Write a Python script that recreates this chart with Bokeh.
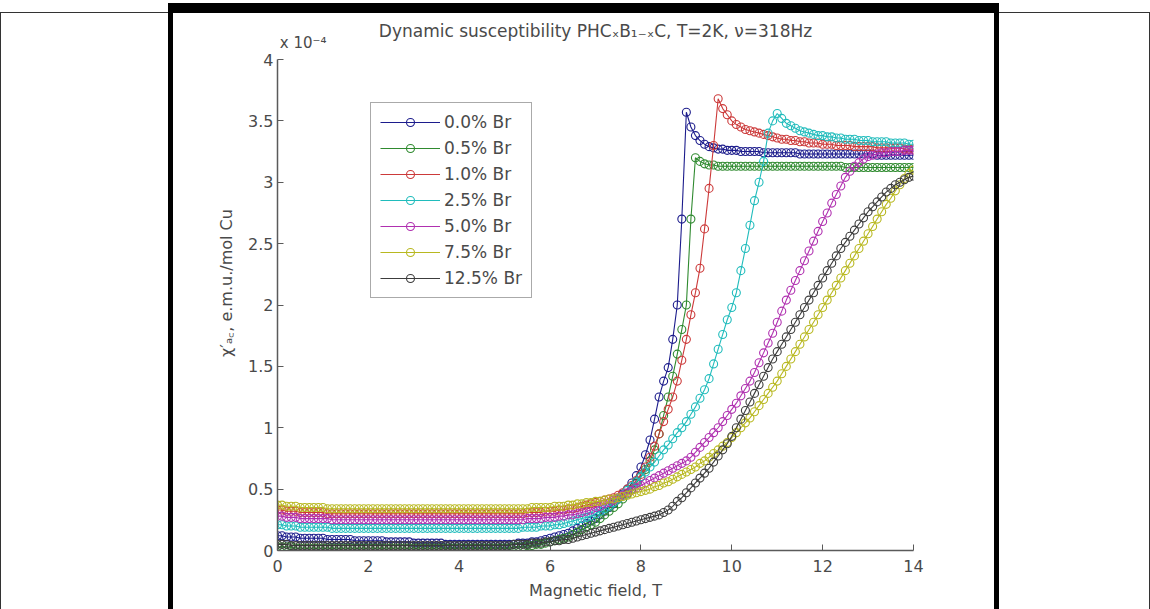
from bokeh.plotting import figure
from bokeh.models import Range1d, Legend, LegendItem, Label, FixedTicker, ColumnDataSource
from bokeh.embed import file_html
from bokeh.resources import INLINE

FIELD = [0.0, 0.1, 0.2, 0.3, 0.4, 0.5, 0.6, 0.7, 0.8, 0.9,
         1.0, 1.1, 1.2, 1.3, 1.4, 1.5, 1.6, 1.7, 1.8, 1.9,
         2.0, 2.1, 2.2, 2.3, 2.4, 2.5, 2.6, 2.7, 2.8, 2.9,
         3.0, 3.1, 3.2, 3.3, 3.4, 3.5, 3.6, 3.7, 3.8, 3.9,
         4.0, 4.1, 4.2, 4.3, 4.4, 4.5, 4.6, 4.7, 4.8, 4.9,
         5.0, 5.1, 5.2, 5.3, 5.4, 5.5, 5.6, 5.7, 5.8, 5.9,
         6.0, 6.1, 6.2, 6.3, 6.4, 6.5, 6.6, 6.7, 6.8, 6.9,
         7.0, 7.1, 7.2, 7.3, 7.4, 7.5, 7.6, 7.7, 7.8, 7.9,
         8.0, 8.1, 8.2, 8.3, 8.4, 8.5, 8.6, 8.7, 8.8, 8.9,
         9.0, 9.1, 9.2, 9.3, 9.4, 9.5, 9.6, 9.7, 9.8, 9.9,
         10.0, 10.1, 10.2, 10.3, 10.4, 10.5, 10.6, 10.7, 10.8, 10.9,
         11.0, 11.1, 11.2, 11.3, 11.4, 11.5, 11.6, 11.7, 11.8, 11.9,
         12.0, 12.1, 12.2, 12.3, 12.4, 12.5, 12.6, 12.7, 12.8, 12.9,
         13.0, 13.1, 13.2, 13.3, 13.4, 13.5, 13.6, 13.7, 13.8, 13.9,
         14.0]

LABELS = ["0.0% Br", "0.5% Br", "1.0% Br", "2.5% Br", "5.0% Br", "7.5% Br", "12.5% Br"]
COLORS = ["#1c1c8c", "#2f8a2f", "#cc3a3a", "#20bcbc", "#b030b0", "#b8b820", "#3c3c3c"]

CHI_00 = [0.12, 0.12, 0.11, 0.11, 0.11, 0.10, 0.10, 0.10, 0.10, 0.10,
          0.10, 0.09, 0.09, 0.09, 0.09, 0.09, 0.09, 0.08, 0.08, 0.08,
          0.08, 0.08, 0.08, 0.08, 0.07, 0.07, 0.07, 0.07, 0.07, 0.07,
          0.06, 0.06, 0.06, 0.06, 0.06, 0.06, 0.06, 0.05, 0.05, 0.05,
          0.05, 0.05, 0.05, 0.05, 0.05, 0.05, 0.05, 0.05, 0.05, 0.05,
          0.05, 0.05, 0.05, 0.06, 0.06, 0.06, 0.07, 0.07, 0.08, 0.09,
          0.10, 0.11, 0.12, 0.13, 0.14, 0.16, 0.18, 0.20, 0.22, 0.24,
          0.26, 0.29, 0.32, 0.35, 0.38, 0.42, 0.46, 0.50, 0.55, 0.61,
          0.68, 0.78, 0.90, 1.07, 1.25, 1.38, 1.49, 1.72, 2.00, 2.70,
          3.57, 3.45, 3.38, 3.34, 3.31, 3.29, 3.28, 3.27, 3.27, 3.26,
          3.26, 3.26, 3.25, 3.25, 3.25, 3.25, 3.25, 3.24, 3.24, 3.24,
          3.24, 3.24, 3.24, 3.24, 3.24, 3.23, 3.23, 3.23, 3.23, 3.23,
          3.23, 3.23, 3.23, 3.23, 3.23, 3.23, 3.23, 3.23, 3.23, 3.23,
          3.23, 3.23, 3.22, 3.22, 3.22, 3.22, 3.22, 3.22, 3.22, 3.22,
          3.22]

CHI_05 = [0.03, 0.03, 0.03, 0.03, 0.02, 0.02, 0.02, 0.02, 0.02, 0.02,
          0.02, 0.02, 0.02, 0.02, 0.02, 0.02, 0.02, 0.02, 0.02, 0.02,
          0.02, 0.02, 0.02, 0.02, 0.02, 0.02, 0.02, 0.02, 0.02, 0.02,
          0.02, 0.02, 0.02, 0.02, 0.02, 0.02, 0.02, 0.02, 0.02, 0.02,
          0.02, 0.02, 0.02, 0.02, 0.02, 0.02, 0.02, 0.02, 0.02, 0.02,
          0.02, 0.02, 0.03, 0.03, 0.03, 0.04, 0.04, 0.05, 0.05, 0.06,
          0.07, 0.08, 0.09, 0.10, 0.11, 0.13, 0.15, 0.17, 0.19, 0.21,
          0.23, 0.26, 0.29, 0.32, 0.35, 0.38, 0.42, 0.46, 0.50, 0.55,
          0.60, 0.66, 0.73, 0.82, 0.95, 1.10, 1.25, 1.42, 1.60, 1.80,
          2.00, 2.70, 3.20, 3.17, 3.15, 3.14, 3.14, 3.13, 3.13, 3.13,
          3.13, 3.13, 3.13, 3.13, 3.13, 3.13, 3.13, 3.13, 3.13, 3.13,
          3.13, 3.13, 3.13, 3.13, 3.13, 3.13, 3.13, 3.13, 3.13, 3.13,
          3.13, 3.13, 3.13, 3.13, 3.13, 3.12, 3.12, 3.12, 3.12, 3.12,
          3.12, 3.12, 3.12, 3.12, 3.12, 3.12, 3.12, 3.12, 3.12, 3.12,
          3.12]

CHI_10 = [0.33, 0.33, 0.32, 0.32, 0.32, 0.31, 0.31, 0.31, 0.31, 0.31,
          0.31, 0.30, 0.30, 0.30, 0.30, 0.30, 0.30, 0.30, 0.30, 0.30,
          0.30, 0.30, 0.30, 0.30, 0.30, 0.30, 0.30, 0.30, 0.30, 0.30,
          0.30, 0.30, 0.30, 0.30, 0.30, 0.30, 0.30, 0.30, 0.30, 0.30,
          0.30, 0.30, 0.30, 0.30, 0.30, 0.30, 0.30, 0.30, 0.30, 0.30,
          0.30, 0.30, 0.30, 0.30, 0.30, 0.31, 0.31, 0.31, 0.31, 0.32,
          0.32, 0.32, 0.33, 0.33, 0.34, 0.34, 0.35, 0.36, 0.37, 0.38,
          0.39, 0.40, 0.41, 0.42, 0.43, 0.45, 0.47, 0.50, 0.53, 0.57,
          0.62, 0.68, 0.76, 0.85, 0.95, 1.05, 1.15, 1.25, 1.38, 1.55,
          1.72, 1.92, 2.10, 2.30, 2.62, 2.95, 3.30, 3.68, 3.60, 3.55,
          3.50, 3.47, 3.45, 3.43, 3.42, 3.41, 3.40, 3.39, 3.38, 3.37,
          3.36, 3.35, 3.35, 3.34, 3.34, 3.33, 3.33, 3.32, 3.32, 3.32,
          3.31, 3.31, 3.31, 3.30, 3.30, 3.30, 3.30, 3.29, 3.29, 3.29,
          3.29, 3.29, 3.28, 3.28, 3.28, 3.28, 3.28, 3.28, 3.27, 3.27,
          3.27]

CHI_25 = [0.21, 0.21, 0.20, 0.20, 0.20, 0.19, 0.19, 0.19, 0.19, 0.19,
          0.19, 0.19, 0.18, 0.18, 0.18, 0.18, 0.18, 0.18, 0.18, 0.18,
          0.18, 0.18, 0.18, 0.18, 0.18, 0.18, 0.18, 0.18, 0.18, 0.18,
          0.18, 0.18, 0.18, 0.18, 0.18, 0.18, 0.18, 0.18, 0.18, 0.18,
          0.18, 0.18, 0.18, 0.18, 0.18, 0.18, 0.18, 0.18, 0.18, 0.18,
          0.18, 0.18, 0.18, 0.18, 0.19, 0.19, 0.19, 0.19, 0.20, 0.20,
          0.20, 0.21, 0.21, 0.22, 0.23, 0.24, 0.25, 0.26, 0.27, 0.28,
          0.30, 0.32, 0.34, 0.36, 0.39, 0.42, 0.45, 0.49, 0.52, 0.56,
          0.60, 0.64, 0.68, 0.72, 0.77, 0.82, 0.86, 0.91, 0.96, 1.00,
          1.05, 1.11, 1.17, 1.24, 1.31, 1.40, 1.52, 1.64, 1.76, 1.88,
          1.98, 2.10, 2.28, 2.46, 2.65, 2.85, 3.00, 3.17, 3.40, 3.50,
          3.56, 3.52, 3.48, 3.46, 3.44, 3.42, 3.41, 3.40, 3.39, 3.38,
          3.38, 3.37, 3.37, 3.36, 3.36, 3.35, 3.35, 3.35, 3.34, 3.34,
          3.34, 3.33, 3.33, 3.33, 3.33, 3.32, 3.32, 3.32, 3.32, 3.31,
          3.31]

CHI_50 = [0.28, 0.28, 0.27, 0.27, 0.27, 0.26, 0.26, 0.26, 0.26, 0.26,
          0.26, 0.26, 0.25, 0.25, 0.25, 0.25, 0.25, 0.25, 0.25, 0.25,
          0.25, 0.25, 0.25, 0.25, 0.25, 0.25, 0.25, 0.25, 0.25, 0.25,
          0.25, 0.25, 0.25, 0.25, 0.25, 0.25, 0.25, 0.25, 0.25, 0.25,
          0.25, 0.25, 0.25, 0.25, 0.25, 0.25, 0.25, 0.25, 0.25, 0.25,
          0.25, 0.25, 0.25, 0.25, 0.25, 0.26, 0.26, 0.26, 0.26, 0.27,
          0.27, 0.27, 0.28, 0.28, 0.29, 0.29, 0.30, 0.31, 0.32, 0.33,
          0.35, 0.36, 0.38, 0.39, 0.41, 0.43, 0.45, 0.47, 0.49, 0.51,
          0.53, 0.55, 0.57, 0.59, 0.61, 0.63, 0.65, 0.67, 0.69, 0.71,
          0.73, 0.76, 0.80, 0.84, 0.88, 0.92, 0.96, 1.00, 1.05, 1.10,
          1.15, 1.20, 1.26, 1.32, 1.38, 1.45, 1.53, 1.61, 1.69, 1.77,
          1.86, 1.95, 2.04, 2.12, 2.20, 2.28, 2.36, 2.44, 2.52, 2.60,
          2.68, 2.75, 2.83, 2.90, 2.97, 3.04, 3.09, 3.13, 3.16, 3.19,
          3.21, 3.22, 3.23, 3.24, 3.24, 3.25, 3.25, 3.25, 3.26, 3.26,
          3.26]

CHI_75 = [0.37, 0.37, 0.36, 0.36, 0.36, 0.35, 0.35, 0.35, 0.35, 0.35,
          0.35, 0.34, 0.34, 0.34, 0.34, 0.34, 0.34, 0.34, 0.34, 0.34,
          0.34, 0.34, 0.34, 0.34, 0.34, 0.34, 0.34, 0.34, 0.34, 0.34,
          0.34, 0.34, 0.34, 0.34, 0.34, 0.34, 0.34, 0.34, 0.34, 0.34,
          0.34, 0.34, 0.34, 0.34, 0.34, 0.34, 0.34, 0.34, 0.34, 0.34,
          0.34, 0.34, 0.34, 0.34, 0.34, 0.34, 0.35, 0.35, 0.35, 0.35,
          0.35, 0.36, 0.36, 0.36, 0.37, 0.37, 0.38, 0.38, 0.39, 0.39,
          0.40, 0.40, 0.41, 0.42, 0.42, 0.43, 0.44, 0.45, 0.46, 0.47,
          0.48, 0.49, 0.50, 0.52, 0.53, 0.55, 0.56, 0.58, 0.60, 0.62,
          0.64, 0.66, 0.68, 0.71, 0.73, 0.76, 0.79, 0.82, 0.85, 0.88,
          0.92, 0.96, 1.00, 1.04, 1.08, 1.13, 1.18, 1.23, 1.28, 1.33,
          1.38, 1.44, 1.50, 1.56, 1.62, 1.68, 1.74, 1.80, 1.86, 1.92,
          1.98, 2.04, 2.10, 2.16, 2.22, 2.28, 2.34, 2.40, 2.46, 2.52,
          2.58, 2.64, 2.70, 2.76, 2.82, 2.87, 2.93, 2.98, 3.03, 3.07,
          3.10]

CHI_125 = [0.05, 0.05, 0.05, 0.04, 0.04, 0.04, 0.04, 0.04, 0.04, 0.04,
           0.04, 0.04, 0.04, 0.04, 0.04, 0.04, 0.04, 0.04, 0.04, 0.04,
           0.04, 0.04, 0.04, 0.04, 0.04, 0.04, 0.04, 0.04, 0.04, 0.04,
           0.04, 0.04, 0.04, 0.04, 0.04, 0.04, 0.04, 0.04, 0.04, 0.04,
           0.04, 0.04, 0.04, 0.04, 0.04, 0.04, 0.04, 0.04, 0.04, 0.04,
           0.04, 0.04, 0.05, 0.05, 0.05, 0.05, 0.06, 0.06, 0.06, 0.07,
           0.07, 0.08, 0.08, 0.09, 0.09, 0.10, 0.11, 0.12, 0.13, 0.14,
           0.15, 0.16, 0.17, 0.18, 0.19, 0.20, 0.21, 0.22, 0.23, 0.24,
           0.25, 0.26, 0.27, 0.28, 0.29, 0.31, 0.33, 0.36, 0.40, 0.43,
           0.47, 0.51, 0.55, 0.59, 0.63, 0.67, 0.72, 0.77, 0.82, 0.87,
           0.93, 1.00, 1.07, 1.14, 1.21, 1.28, 1.35, 1.42, 1.49, 1.56,
           1.62, 1.68, 1.74, 1.80, 1.86, 1.92, 1.98, 2.04, 2.10, 2.16,
           2.22, 2.28, 2.34, 2.40, 2.46, 2.51, 2.56, 2.61, 2.66, 2.71,
           2.76, 2.80, 2.84, 2.88, 2.92, 2.95, 2.98, 3.00, 3.02, 3.04,
           3.05]

SERIES = [CHI_00, CHI_05, CHI_10, CHI_25, CHI_50, CHI_75, CHI_125]

X_TICKS = [0, 2, 4, 6, 8, 10, 12, 14]
Y_TICKS = [0, 0.5, 1, 1.5, 2, 2.5, 3, 3.5, 4]
Y_TICK_LABELS = ["0", "0.5", "1", "1.5", "2", "2.5", "3", "3.5", "4"]
TITLE = "Dynamic susceptibility PHC\u2093B\u2081\u208b\u2093C, T=2K, \u03bd=318Hz"
SCALE_NOTE = "x 10\u207b\u2074"

FONT = "DejaVu Sans"
TXT = "#4a4a4a"
AX = "#5a5a5a"

W, H = 1150, 609
FL, FR, FT, FB = 277, 913, 15, 550
PX_PER_UNIT = (FB - 59) / 4.0           # axis 0..4 spans pixel rows 550..59
Y_END = (FB - FT) / PX_PER_UNIT          # frame extends above the axis to hold the header texts

p = figure(width=W, height=H, output_backend="svg", toolbar_location=None,
           x_range=Range1d(0, 14), y_range=Range1d(0, Y_END),
           min_border_left=FL, min_border_right=W - FR,
           min_border_top=FT, min_border_bottom=H - FB,
           background_fill_color="white", border_fill_alpha=0.0)
p.outline_line_color = None
p.grid.visible = False
p.title.visible = False

# page frame (black border of the scanned figure box) drawn as CSS background
p.styles = {
    "background-color": "white",
    "background-image": ", ".join(["linear-gradient(#000000, #000000)"] * 3
                                  + ["linear-gradient(#333333, #333333)"] * 4),
    "background-size": "5px 606px, 5px 606px, 831px 10px, 168px 1px, 151px 1px, 1px 597px, 1px 597px",
    "background-position": "168px 3px, 994px 3px, 168px 3px, 0px 12px, 999px 12px, 0px 12px, 1149px 12px",
    "background-repeat": "no-repeat",
}

for ax in (p.xaxis[0], p.yaxis[0]):
    ax.axis_line_color = AX
    ax.axis_line_width = 1.5
    ax.major_tick_line_color = AX
    ax.major_tick_in = 6
    ax.major_tick_out = 0
    ax.minor_tick_line_color = None
    ax.major_label_text_font = FONT
    ax.major_label_text_font_size = "16px"
    ax.major_label_text_color = TXT
    ax.axis_label_text_font = FONT
    ax.axis_label_text_font_size = "16px"
    ax.axis_label_text_font_style = "normal"
    ax.axis_label_text_color = TXT

p.xaxis.ticker = FixedTicker(ticks=X_TICKS)
p.yaxis.ticker = FixedTicker(ticks=Y_TICKS)
p.yaxis.bounds = (Y_TICKS[0], Y_TICKS[-1])
p.xaxis.bounds = (X_TICKS[0], X_TICKS[-1])
p.yaxis.major_label_overrides = {t: s for t, s in zip(Y_TICKS, Y_TICK_LABELS)}
p.yaxis.major_label_orientation = 0
p.yaxis.major_label_standoff = 4
p.xaxis.major_label_standoff = 9
p.xaxis.axis_label = "Magnetic field, T"
p.xaxis.axis_label_standoff = 6
p.yaxis.axis_label = "\u03c7\u2032\u2090\ua700, e.m.u./mol Cu"
p.yaxis.axis_label_standoff = 9

items = []
for chi, lab, col in zip(SERIES, LABELS, COLORS):
    src = ColumnDataSource(dict(x=FIELD, y=chi))
    r1 = p.line("x", "y", source=src, line_color=col, line_width=1.1)
    r2 = p.scatter("x", "y", source=src, marker="circle", size=8, fill_color=None,
                   line_color=col, line_width=1.1)
    items.append(LegendItem(label=lab, renderers=[r1, r2]))

leg = Legend(items=items, location=(93, 252), orientation="vertical")
leg.glyph_width = 60
leg.glyph_height = 20
leg.label_height = 20
leg.spacing = 6
leg.padding = 9
leg.margin = 0
leg.label_standoff = 4
leg.label_text_font = FONT
leg.label_text_font_size = "17px"
leg.label_text_color = TXT
leg.border_line_color = "#555555"
leg.border_line_width = 1.5
leg.background_fill_color = "white"
leg.background_fill_alpha = 1.0
p.add_layout(leg)

# header texts placed in the frame strip above the y axis top
p.add_layout(Label(x=7, y=(FB - 30) / PX_PER_UNIT, text=TITLE, text_font=FONT,
                   text_font_size="17px", text_color=TXT, text_align="center",
                   text_baseline="middle"))
p.add_layout(Label(x=0.05, y=(FB - 42) / PX_PER_UNIT, text=SCALE_NOTE, text_font=FONT,
                   text_font_size="15px", text_color=TXT, text_align="left",
                   text_baseline="middle"))

open("out.html", "w").write(file_html(p, INLINE))
